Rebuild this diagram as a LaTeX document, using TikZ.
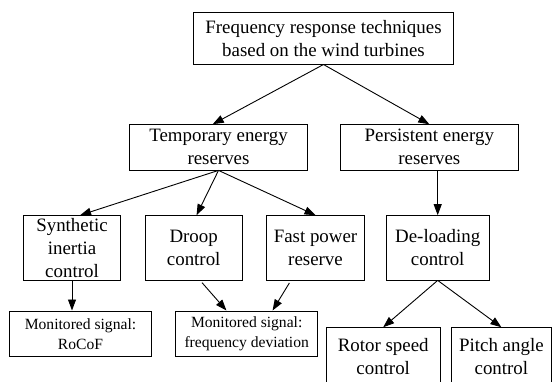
\documentclass[tikz,border=0pt]{standalone}
\usepackage{fontspec}
\setmainfont{Liberation Serif}
\usetikzlibrary{arrows.meta}

\begin{document}
\begin{tikzpicture}[x=1pt,y=-1pt,line width=0.9pt]

	\tikzstyle{block}=[rectangle,draw=black,inner sep=0pt,align=center,minimum height=64.3pt,font=\fontsize{18.9}{23}\selectfont]
	\tikzstyle{small block}=[block,minimum width=142pt,minimum height=45.7pt,font=\fontsize{15.6}{20}\selectfont]
	\tikzstyle{link}=[-{Triangle[length=11pt,width=8pt]}]

	\fill[white] (0,0) rectangle (552,381);
	\useasboundingbox (0,0) rectangle (552,381);

	\node [block,minimum width=260.4pt,minimum height=51.7pt] (freq) at (323.5,38.2) {Frequency response techniques\\based on the wind turbines};
	\node [block,minimum width=178.4pt,minimum height=45.3pt] (temp) at (218.5,147.3) {Temporary energy\\reserves};
	\node [block,minimum width=178pt,minimum height=45.3pt] (persist) at (429.3,147.3) {Persistent energy\\reserves};
	\draw[link] (freq.south) -- (temp.104);
	\draw[link] (freq.south) -- (persist.north);

	\node [block,minimum width=97.4pt] (synth) at (72,247.8) {Synthetic\\inertia\\control};
	\node [block,minimum width=97.3pt] (droop) at (193.7,247.8) {Droop\\control};
	\node [block,minimum width=97.6pt] (fast) at (315.5,247.8) {Fast power\\reserve};
	\node [block,minimum width=103.3pt] (deload) at (437.7,247.8) {De-loading\\control};
	\draw[link] (temp.south) -- (synth.76);
	\draw[link] (temp.south) -- (droop.85);
	\draw[link] (temp.south) -- (fast.north);
	\draw[link] (persist.south -| deload.north) -- (deload.north);

	\node [small block] (rocof) at (80.5,333.8) {Monitored signal:\\RoCoF};
	\node [small block] (fdev) at (246.7,333.8) {Monitored signal:\\frequency deviation};
	\draw[link] (synth.south) -- (synth.south |- rocof.north);
	\draw[link,shorten <=3pt] (droop.281) -- (fdev.131);
	\draw[link,shorten <=3pt] (fast.233) -- (fdev.42);

	\node [block,minimum width=114.3pt,minimum height=57.6pt] (rotor) at (383.2,356.5) {Rotor speed\\control};
	\node [block,minimum width=99.3pt,minimum height=57.6pt] (pitch) at (501.4,356.5) {Pitch angle\\control};
	\draw[link] (deload.south) -- (rotor.north);
	\draw[link] (deload.south) -- (pitch.north);

\end{tikzpicture}
\end{document}
